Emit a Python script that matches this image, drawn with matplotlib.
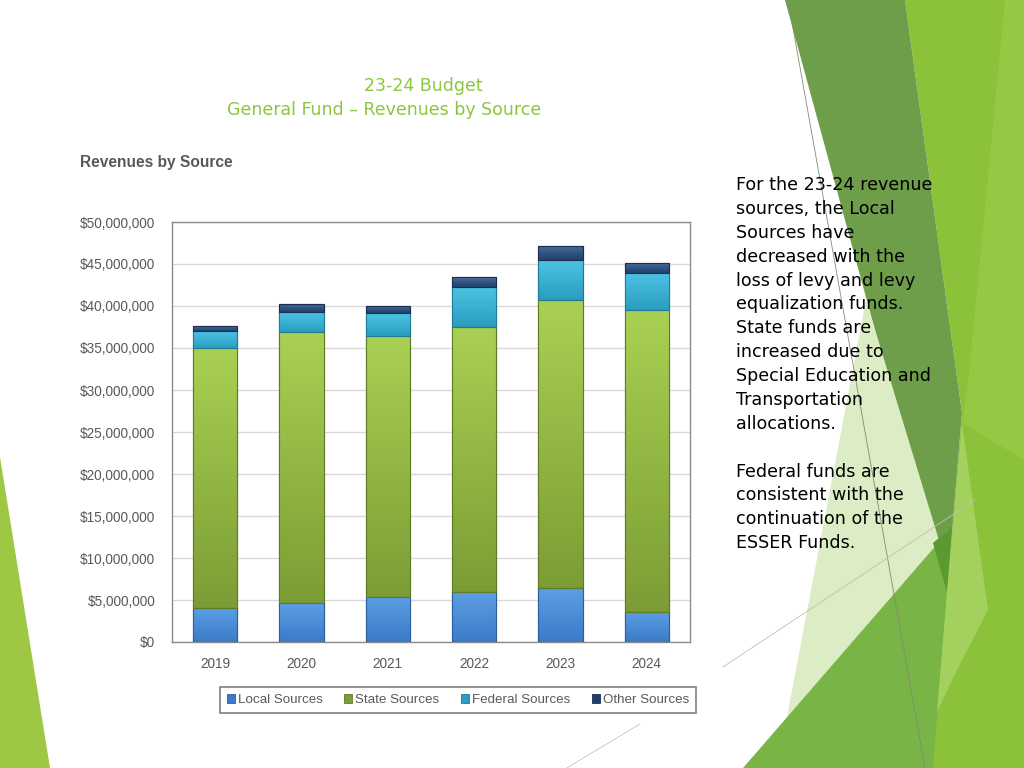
import numpy as np
import matplotlib
matplotlib.use('Agg')
import matplotlib.pyplot as plt
from matplotlib.colors import to_rgb
from matplotlib.patches import Polygon, Patch

# ---------------- data (millions of dollars) ----------------
years = ['2019', '2020', '2021', '2022', '2023', '2024']
local_sources = [4.08, 4.60, 5.40, 5.90, 6.39, 3.61]
state_sources = [30.96, 32.35, 31.03, 31.56, 34.28, 35.87]
federal_sources = [1.96, 2.35, 2.70, 4.84, 4.81, 4.41]
other_sources = [0.58, 0.98, 0.91, 1.11, 1.70, 1.27]
series_names = ['Local Sources', 'State Sources', 'Federal Sources', 'Other Sources']
y_ticks = [0, 5, 10, 15, 20, 25, 30, 35, 40, 45, 50]

slide_title_1 = '23-24 Budget'
slide_title_2 = 'General Fund \u2013 Revenues by Source'
chart_title = 'Revenues by Source'
side_text = ("For the 23-24 revenue\nsources, the Local\nSources have\ndecreased with the\n"
             "loss of levy and levy\nequalization funds.\nState funds are\nincreased due to\n"
             "Special Education and\nTransportation\nallocations.\n\nFederal funds are\n"
             "consistent with the\ncontinuation of the\nESSER Funds.")

# ---------------- styles ----------------
W, H = 1024, 768
narrow = ['Liberation Sans Narrow', 'Liberation Sans', 'DejaVu Sans']
series_colors = [
    ('#5d9fe4', '#3b7bc8', '#2b5e9e'),   # local: top, bottom, edge
    ('#a9d053', '#7c9d35', '#5f7a27'),   # state
    ('#4cc4e4', '#2b9dc0', '#1f7a96'),   # federal
    ('#456d9e', '#223f69', '#1a3050'),   # other
]

fig = plt.figure(figsize=(W / 100, H / 100), dpi=100)
fig.patch.set_facecolor('white')

# ---------------- decorative slide background ----------------
bg = fig.add_axes([0, 0, 1, 1], zorder=-5)
bg.set_xlim(0, W)
bg.set_ylim(H, 0)
bg.axis('off')

shapes = [
    ([(905, 0), (1024, 0), (1024, 768), (900, 768), (947, 593), (962, 413)], '#8cc23a'),
    ([(1005, 0), (1024, 0), (1024, 460), (962, 423), (968, 384)], '#96c843'),
    ([(785, 0), (905, 0), (962, 413), (947, 593), (933, 543)], '#6f9e4b'),
    ([(866, 300), (945, 560), (760, 768), (787, 717)], '#dcecc4'),
    ([(743, 768), (952, 527), (947, 593), (933, 768)], '#79b447'),
    ([(933, 543), (952, 527), (947, 593)], '#5a9a30'),
    ([(962, 423), (988, 610), (958, 668), (937, 712), (947, 593)], '#a4d05e'),
    ([(0, 457), (50, 768), (0, 768)], '#9ec843'),
]
for pts, col in shapes:
    bg.add_patch(Polygon(pts, closed=True, facecolor=col, edgecolor='none'))
bg.plot([788, 925], [0, 768], color='#7d8d72', lw=0.6)
bg.plot([723, 975], [667, 500], color='#b8c4b0', lw=0.6)
bg.plot([560, 640], [772, 724], color='#c0c8bc', lw=0.6)

# ---------------- chart ----------------
ax = fig.add_axes([172 / W, 1 - 642 / H, 518 / W, 420 / H])
ax.set_facecolor('white')
x = np.arange(len(years))
bar_w = 0.51
data = [np.array(s) * 1e6 for s in (local_sources, state_sources, federal_sources, other_sources)]
bottom = np.zeros(len(years))
for vals, (ctop, cbot, cedge), name in zip(data, series_colors, series_names):
    bars = ax.bar(x, vals, bar_w, bottom=bottom, color=cbot, edgecolor=cedge,
                  linewidth=0.8, zorder=3, label=name)
    t = np.linspace(0, 1, 64)[:, None]
    c1, c2 = np.array(to_rgb(ctop)), np.array(to_rgb(cbot))
    grad = (c1[None, None, :] * (1 - t[..., None]) + c2[None, None, :] * t[..., None])
    for rect in bars:
        x0, y0 = rect.get_x(), rect.get_y()
        im = ax.imshow(grad, extent=(x0, x0 + rect.get_width(), y0, y0 + rect.get_height()),
                       aspect='auto', origin='upper', zorder=3.5, interpolation='bilinear')
        im.set_clip_path(rect)
        ax.add_patch(plt.Rectangle((x0, y0), rect.get_width(), rect.get_height(),
                                   facecolor='none', edgecolor=cedge, linewidth=0.8, zorder=4))
    bottom = bottom + vals

ax.set_xlim(-0.5, len(years) - 0.5)
ax.set_ylim(0, 50e6)
ax.set_yticks([v * 1e6 for v in y_ticks])
ax.set_yticklabels(['${:,.0f}'.format(v * 1e6) for v in y_ticks])
ax.set_xticks(x)
ax.set_xticklabels(years)
ax.tick_params(axis='both', length=0, labelsize=9.8, labelcolor='#595959')
ax.tick_params(axis='y', pad=12)
ax.tick_params(axis='x', pad=11)
for lab in ax.get_xticklabels() + ax.get_yticklabels():
    lab.set_family(narrow)
ax.grid(axis='y', color='#d9d9d9', linewidth=1, zorder=0)
ax.set_axisbelow(True)
for side, sp in ax.spines.items():
    sp.set_color('#8c8c8c')
    sp.set_linewidth(1)

handles = [Patch(facecolor=c[1], edgecolor=c[2], linewidth=0.6) for c in series_colors]
leg = fig.legend(handles, series_names, loc='center', ncol=4, mode='expand',
                 bbox_to_anchor=(220 / W, 1 - 714 / H, 476 / W, 28 / H),
                 frameon=True, fancybox=False, edgecolor='#7f7f7f', framealpha=1,
                 handlelength=0.6, handleheight=0.6, handletextpad=0.25,
                 borderaxespad=0, borderpad=0.5, columnspacing=1.5,
                 prop={'family': narrow, 'size': 9.6})
for t in leg.get_texts():
    t.set_color('#595959')
leg.get_frame().set_linewidth(1.2)

# ---------------- texts ----------------
fig.text(80 / W, 1 - 162 / H, chart_title, ha='left', va='center', fontsize=11.2,
         fontweight='bold', color='#595959', family=narrow)
fig.text(423 / W, 1 - 86 / H, slide_title_1, ha='center', va='center', fontsize=12.5,
         color='#8cc63f', family='DejaVu Sans')
fig.text(384 / W, 1 - 110 / H, slide_title_2, ha='center', va='center', fontsize=12.5,
         color='#8cc63f', family='DejaVu Sans')
fig.text(736 / W, 1 - 176 / H, side_text, ha='left', va='top', fontsize=12.6,
         color='black', family='DejaVu Sans', linespacing=1.42)

fig.savefig('out.png', dpi=100)
